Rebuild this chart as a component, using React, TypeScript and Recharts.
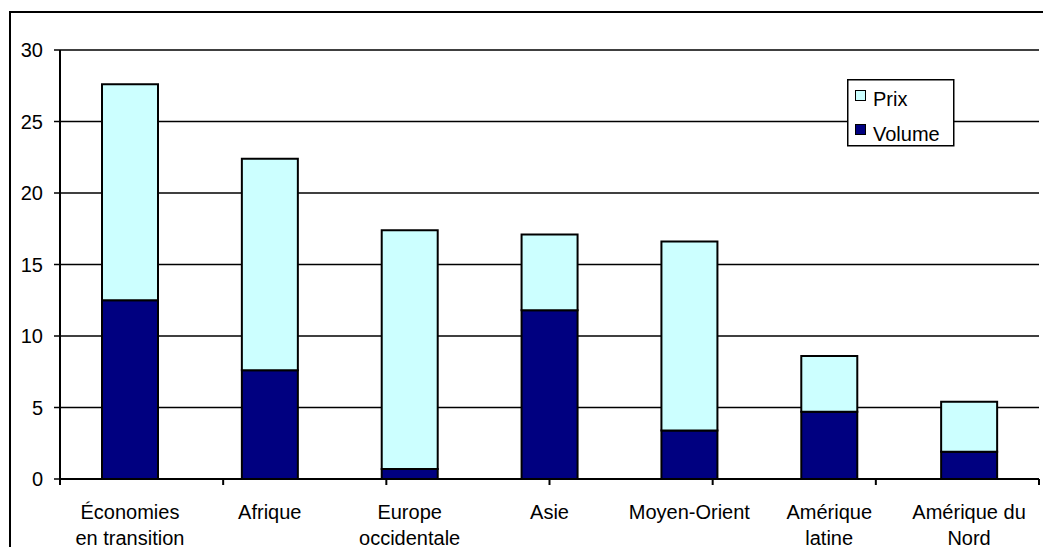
import React from 'react';
import {
  BarChart,
  Bar,
  XAxis,
  YAxis,
  CartesianGrid,
  Legend,
} from 'recharts';

// Values
const categories = [
  'Économies\nen transition',
  'Afrique',
  'Europe\noccidentale',
  'Asie',
  'Moyen-Orient',
  'Amérique\nlatine',
  'Amérique du\nNord',
];
const volume = [12.5, 7.6, 0.7, 11.8, 3.4, 4.7, 1.9];
const prix = [15.1, 14.8, 16.7, 5.3, 13.2, 3.9, 3.5];
const yTicks = [0, 5, 10, 15, 20, 25, 30];
const categoryEdges = [0, 1, 2, 3, 4, 5, 6, 7];
const legendOrder = ['Prix', 'Volume'];

const FONT = '"Liberation Sans", Arial, sans-serif';
const PRIX_COLOR = '#CCFFFF';
const VOLUME_COLOR = '#000080';

const data = categories.map((name, i) => ({ name, volume: volume[i], prix: prix[i] }));

const CategoryTick = ({ x, y, payload }: any) => {
  const lines = String(payload.value).split('\n');
  return (
    <text x={x} y={y + 39} textAnchor="middle" fontSize={20} fontFamily={FONT} fill="#000">
      {lines.map((line, i) => (
        <tspan key={i} x={x} dy={i === 0 ? 0 : 26}>
          {line}
        </tspan>
      ))}
    </text>
  );
};

const LegendBox = ({ payload }: any) => {
  const items = legendOrder
    .map((name) => (payload || []).find((p: any) => p.value === name))
    .filter(Boolean);
  return (
    <svg width={108} height={68} style={{ display: 'block' }}>
      <rect x={0.75} y={0.75} width={106} height={66} fill="#fff" stroke="#000" strokeWidth={1.5} />
      {items.map((item: any, i: number) => (
        <g key={item.value}>
          <rect
            x={8.5}
            y={11.5 + i * 34}
            width={10}
            height={10}
            fill={item.color}
            stroke="#000"
            strokeWidth={1}
          />
          <text x={26} y={27 + i * 35} fontSize={20} fontFamily={FONT} fill="#000">
            {item.value}
          </text>
        </g>
      ))}
    </svg>
  );
};

export default function App() {
  return (
    <div
      style={{
        position: 'absolute',
        left: 0,
        top: 0,
        width: 1043,
        height: 547,
        overflow: 'hidden',
        background: '#fff',
      }}
    >
      <div
        style={{
          position: 'absolute',
          left: 9,
          top: 11,
          width: 2000,
          height: 2000,
          borderLeft: '2px solid #000',
          borderTop: '2px solid #000',
        }}
      />
      <div style={{ position: 'absolute', left: 0, top: 0 }}>
        <BarChart
          width={1043}
          height={547}
          data={data}
          margin={{ top: 50, right: 4, bottom: 0, left: 0 }}
          barSize={56}
        >
          <CartesianGrid vertical={false} stroke="#000" strokeWidth={1.5} yAxisId="left" xAxisId="b_cat" />
          <XAxis
            xAxisId="b_cat"
            dataKey="name"
            height={67}
            interval={0}
            tickLine={false}
            tickSize={0}
            tickMargin={0}
            axisLine={false}
            tick={<CategoryTick />}
          />
          <XAxis
            xAxisId="a_edge"
            type="number"
            domain={[0, 7]}
            ticks={categoryEdges}
            interval={0}
            height={1}
            axisLine={{ stroke: '#000', strokeWidth: 2 }}
            tickSize={6}
            tickLine={{ stroke: '#000', strokeWidth: 2 }}
            tick={() => <g />}
          />
          <YAxis
            yAxisId="left"
            width={60}
            domain={[0, 30]}
            ticks={yTicks}
            interval={0}
            tickSize={6}
            tickMargin={11}
            axisLine={{ stroke: '#000', strokeWidth: 2 }}
            tickLine={{ stroke: '#000', strokeWidth: 1.5 }}
            tick={{ fill: '#000', fontSize: 20, fontFamily: FONT }}
          />
          <YAxis
            yAxisId="right"
            orientation="right"
            width={0}
            domain={[0, 30]}
            tick={false}
            tickLine={false}
            axisLine={{ stroke: '#000', strokeWidth: 2 }}
          />
          <Legend
            layout="horizontal"
            verticalAlign="middle"
            align="center"
            content={<LegendBox />}
            wrapperStyle={{ position: 'absolute', left: 847, top: 79, width: 108, height: 68 }}
          />
          <Bar
            xAxisId="b_cat"
            yAxisId="left"
            dataKey="volume"
            name="Volume"
            stackId="a"
            fill={VOLUME_COLOR}
            stroke="#000"
            strokeWidth={2}
            isAnimationActive={false}
          />
          <Bar
            xAxisId="b_cat"
            yAxisId="left"
            dataKey="prix"
            name="Prix"
            stackId="a"
            fill={PRIX_COLOR}
            stroke="#000"
            strokeWidth={2}
            isAnimationActive={false}
          />
        </BarChart>
      </div>
    </div>
  );
}
